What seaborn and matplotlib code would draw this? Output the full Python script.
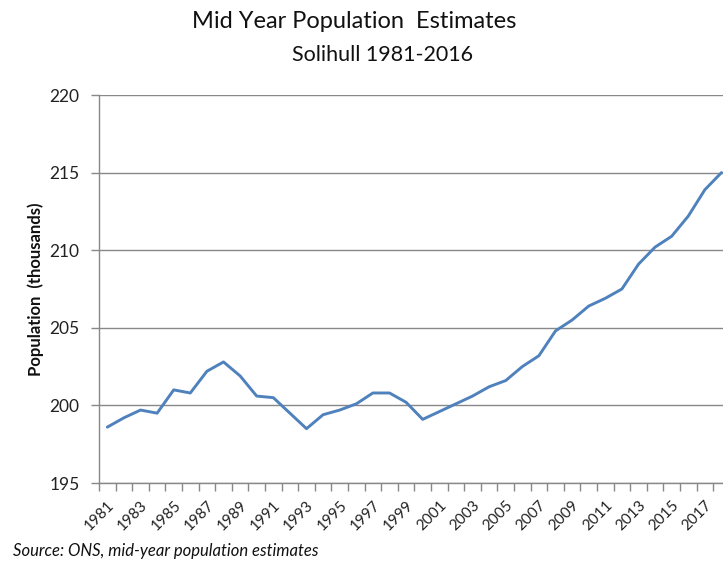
import numpy as np
import pandas as pd
import matplotlib
matplotlib.use('Agg')
import matplotlib.pyplot as plt
from matplotlib.ticker import FixedLocator
import seaborn as sns

# Mid-year population estimates, Solihull (thousands)
years = list(range(1981, 2019))
population = [198.6, 199.2, 199.7, 199.5, 201.0, 200.8, 202.2, 202.8, 201.9, 200.6,
              200.5, 199.5, 198.5, 199.4, 199.7, 200.1, 200.8, 200.8, 200.2, 199.1,
              199.6, 200.1, 200.6, 201.2, 201.6, 202.5, 203.2, 204.8, 205.5, 206.4,
              206.9, 207.5, 209.1, 210.2, 210.9, 212.2, 213.9, 215.0]
label_years = list(range(1981, 2018, 2))
y_ticks = [195, 200, 205, 210, 215, 220]

df = pd.DataFrame({'Year': years, 'Population': population})

sns.set_theme(style='white')
plt.rcParams['font.family'] = ['Lato', 'DejaVu Sans']

fig = plt.figure(figsize=(7.23, 5.65), dpi=100)
ax = fig.add_axes([99 / 723, 82 / 565, 1 - 99 / 723, 388 / 565])

sns.lineplot(data=df, x='Year', y='Population', ax=ax, color='#4F81BD',
             linewidth=2.1, zorder=3)

grid_col = '#888888'
txt_col = '#222222'
ax.set_xlim(1980.5, 1980.5 + 624 / 16.6)
ax.set_ylim(195, 220)
ax.set_yticks(y_ticks)
ax.yaxis.grid(True, color=grid_col, linewidth=1.0)
ax.xaxis.grid(False)

# category ticks between years, labels on every other year
ax.xaxis.set_major_locator(FixedLocator(label_years))
ax.xaxis.set_minor_locator(FixedLocator([y - 0.5 for y in years]))
ax.tick_params(axis='x', which='major', length=0, pad=11, labelsize=11, labelcolor=txt_col)
ax.tick_params(axis='x', which='minor', length=6, width=1, color=grid_col, direction='out', bottom=True)
ax.tick_params(axis='y', length=6, width=1, color=grid_col, direction='out', left=True,
               pad=8, labelsize=12.5, labelcolor=txt_col)
for lbl in ax.get_xticklabels():
    lbl.set_rotation(45)
    lbl.set_ha('right')
    lbl.set_va('top')
    lbl.set_rotation_mode('anchor')

for side in ['top', 'right']:
    ax.spines[side].set_visible(False)
for side in ['left', 'bottom']:
    ax.spines[side].set_color(grid_col)
    ax.spines[side].set_linewidth(1.0)

ax.set_xlabel('')
ax.set_ylabel('Population  (thousands)', fontsize=12, fontweight='bold', labelpad=4, color='#111111')

fig.text(354 / 723, 1 - 22 / 565, 'Mid Year Population  Estimates', ha='center', va='center',
         fontsize=17, color='#111111')
fig.text(382 / 723, 1 - 55 / 565, 'Solihull 1981-2016', ha='center', va='center',
         fontsize=15.5, color='#111111')
fig.text(13 / 723, 1 - 551 / 565, 'Source: ONS, mid-year population estimates', ha='left', va='center',
         fontsize=12, style='italic', color='#111111')

fig.savefig('out.png', dpi=100)
